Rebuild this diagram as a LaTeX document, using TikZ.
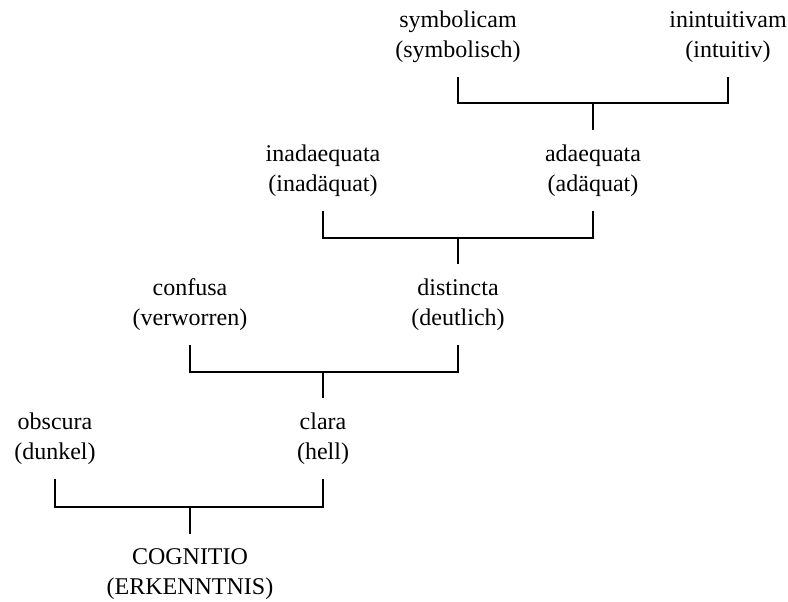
\documentclass[tikz,border=0pt]{standalone}
\usepackage{fontspec}
\setmainfont{Liberation Serif}
\usepackage{tikz}

\begin{document}
\begin{tikzpicture}[x=0.75pt,y=-0.75pt,line width=0.9pt,
  term/.style={align=center,inner xsep=0pt,inner ysep=10.5pt,
    font=\fontsize{18}{22.5}\selectfont}]
\useasboundingbox (0,0) rectangle (788,601);
\node[term,anchor=north] (cognitio) at (190,534) {COGNITIO\\(ERKENNTNIS)};
\node[term,anchor=south] (obscura) at (55,479) {obscura\\(dunkel)};
\node[term,anchor=south] (clara) at (323,479) {clara\\(hell)};
\node[term,anchor=south] (confusa) at (190,345) {confusa\\(verworren)};
\node[term,anchor=south] (distincta) at (458,345) {distincta\\(deutlich)};
\node[term,anchor=south] (inadaequata) at (323,211) {inadaequata\\(inad\"aquat)};
\node[term,anchor=south] (adaequata) at (593,211) {adaequata\\(ad\"aquat)};
\node[term,anchor=south] (symbolicam) at (458,77) {symbolicam\\(symbolisch)};
\node[term,anchor=south] (inintuitivam) at (728,77) {inintuitivam\\(intuitiv)};
\coordinate (k1) at (190,507);
\coordinate (k2) at (323,372);
\coordinate (k3) at (458,238);
\coordinate (k4) at (593,103);
\path [draw] (obscura.south) |- (k1) -| (clara.south);
\path [draw] (k1) -- (cognitio.north);
\path [draw] (confusa.south) |- (k2) -| (distincta.south);
\path [draw] (k2) -- (clara.north);
\path [draw] (inadaequata.south) |- (k3) -| (adaequata.south);
\path [draw] (k3) -- (distincta.north);
\path [draw] (symbolicam.south) |- (k4) -| (inintuitivam.south);
\path [draw] (k4) -- (adaequata.north);
\end{tikzpicture}
\end{document}
